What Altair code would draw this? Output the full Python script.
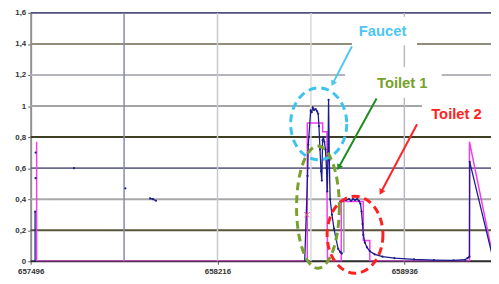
import altair as alt
import pandas as pd

# ---------------- data ----------------
XMIN, XMAX = 657496, 659270
X_TICKS = [657496, 658216, 658936]
Y_TICKS = [0, 0.2, 0.4, 0.6, 0.8, 1.0, 1.2, 1.4, 1.6]
VGRID = [657856, 658216, 658576, 658936]

# magenta series
mag_x = [657519, 657519, 658562, 658562, 658621, 658621, 658638, 658638, 658640,
         658693, 658693, 658778, 658778, 658803, 658803, 659187, 659187, 659275]
mag_y = [0.77, 0.0, 0.0, 0.89, 0.89, 0.835, 0.835, 0.42, 0.0,
         0.0, 0.385, 0.385, 0.134, 0.134, 0.0, 0.0, 0.77, 0.05]

# navy (measured) series, split in segments
nav_seg = (["a"] * 2 + ["d1", "d2", "d3", "d4"] + ["b"] * 3 + ["c"] * 31 + ["e"] * 27)
nav_x = ([657513, 657513]
         + [657515, 657515, 657663, 657861]
         + [657956, 657967, 657979]
         + [658552, 658563, 658566, 658575, 658579, 658583, 658588, 658594, 658600, 658604,
            658607, 658611, 658615, 658618, 658621, 658624, 658628, 658632, 658636, 658639,
            658642, 658644, 658647, 658650, 658657, 658665, 658672, 658681, 658689, 658693,
            658695]
         + [658689, 658700, 658712, 658723, 658731, 658738, 658746, 658754, 658761, 658767,
            658771, 658775, 658778, 658784, 658792, 658803, 658822, 658852, 658898, 658974,
            659050, 659126, 659170, 659179, 659187, 659188, 659276])
nav_y = ([0.0, 0.32]
         + [0.70, 0.535, 0.60, 0.47]
         + [0.405, 0.40, 0.39]
         + [0.0, 0.55, 0.75, 0.97, 0.96, 0.99, 0.975, 0.98, 0.965, 0.95,
            0.87, 0.72, 0.58, 0.52, 0.78, 0.80, 0.77, 0.72, 0.60, 0.45,
            0.70, 1.04, 0.65, 0.40, 0.30, 0.21, 0.15, 0.08, 0.06, 0.055,
            0.05]
         + [0.385, 0.39, 0.395, 0.40, 0.39, 0.40, 0.395, 0.40, 0.39, 0.37,
            0.32, 0.24, 0.17, 0.12, 0.09, 0.065, 0.045, 0.03, 0.02, 0.012,
            0.008, 0.006, 0.01, 0.02, 0.03, 0.64, 0.03])

# gray connector
gray_x = [658703, 658703]
gray_y = [0.055, 0.40]

# red marker
cross_x = [658561]
cross_y = [0.30]

# annotations
ann_text = ["Faucet", "Toilet 1", "Toilet 2"]
ann_color = ["#4cc6f2", "#76a12a", "#ff2424"]
arrow_color = ["#4cc6f2", "#1e8c1e", "#ff2424"]
ann_tx = [658852, 658928, 659137]
ann_ty = [1.486, 1.149, 0.946]
box_x1 = [658734, 658708, 659004]
box_x2 = [658985, 659080, 659270]
box_y1 = [1.575, 1.251, 1.048]
box_y2 = [1.390, 1.054, 0.844]
arr_x1 = [658734, 658829, 658985]
arr_y1 = [1.384, 1.048, 0.883]
arr_x2 = [658662, 658685, 658848]
arr_y2 = [1.151, 0.610, 0.451]
arr_angle = [207, 209, 208]

ell_x = [658606, 658603, 658746]
ell_y = [0.885, 0.349, 0.171]
ell_ry = [36.5, 62, 39]
ell_aspect = [0.78, 0.35, 0.726]
ell_color = ["#3cc4f0", "#78a02a", "#ff2020"]

hgrid_vals = [0, 0.2, 0.4, 0.6, 0.8, 1.0, 1.2, 1.4, 1.6]
hgrid_col = ["#2a2a2a", "#55553a", "#a8a8a8", "#6a6a8a", "#3e3e22", "#a4a4a4", "#b4b4bc", "#8e8e7a", "#50507a"]
vgrid_col = ["#8a8aa8", "#c8c8d0", "#d8d8d8", "#b8b8c8"]

# ---------------- chart ----------------
FONT = "Liberation Sans"
xs = alt.Scale(domain=[XMIN, XMAX], nice=False, zero=False)
ys = alt.Scale(domain=[0, 1.6], nice=False, zero=False)

yaxis = alt.Axis(values=Y_TICKS, format="~g", labelExpr="replace(datum.label, '.', ',')",
                 grid=False, domainColor="#909090", domainWidth=2, tickColor="#606060",
                 tickSize=3, labelFont=FONT, labelFontWeight="bold", labelFontSize=8,
                 labelColor="#333333", labelPadding=2, labelFlush=False, title="")
xaxis = alt.Axis(values=X_TICKS, format="d", grid=False, domain=False,
                 tickColor="#606060", tickSize=3, labelFont=FONT, labelFontWeight="bold",
                 labelFontSize=8, labelColor="#333333", labelPadding=3, labelFlush=False,
                 title="")


def ex(f):
    return alt.X(f, type="quantitative", scale=xs, axis=xaxis)


def ey(f):
    return alt.Y(f, type="quantitative", scale=ys, axis=yaxis)


hg = pd.DataFrame({"y": hgrid_vals, "c": hgrid_col})
vg = pd.DataFrame({"x": VGRID, "c": vgrid_col})

hgrid = alt.Chart(hg).mark_rule(strokeWidth=2).encode(
    y=ey("y"), color=alt.Color("c:N", scale=None))
vgrid = alt.Chart(vg).mark_rule(strokeWidth=1.5).encode(
    x=ex("x"), color=alt.Color("c:N", scale=None))

mag = pd.DataFrame({"x": mag_x, "y": mag_y, "i": range(len(mag_x))})
mag_line = alt.Chart(mag).mark_line(color="#f23cf2", strokeWidth=1.5, clip=True).encode(
    x=ex("x"), y=ey("y"), order="i:Q")

nav = pd.DataFrame({"x": nav_x, "y": nav_y, "s": nav_seg, "i": range(len(nav_x))})
nav_line = alt.Chart(nav).mark_line(color="#1c1c8c", strokeWidth=1.3, clip=True).encode(
    x=ex("x"), y=ey("y"), detail="s:N", order="i:Q")
nav_pts = alt.Chart(nav).mark_point(color="#1c1c8c", filled=True, size=5, opacity=1, clip=True).encode(
    x=ex("x"), y=ey("y"))

gr = pd.DataFrame({"x": gray_x, "y": gray_y})
gray_line = alt.Chart(gr).mark_line(color="#a0a0a0", strokeWidth=1.5).encode(x=ex("x"), y=ey("y"))

cr = pd.DataFrame({"x": cross_x, "y": cross_y})
cross = alt.Chart(cr).mark_point(shape="M-1,-1L1,1M-1,1L1,-1", size=30, color="#ff5a7a",
                                 strokeWidth=1, filled=False, opacity=1).encode(x=ex("x"), y=ey("y"))

ell_layers = []
for cx, cy, ry, a, col in zip(ell_x, ell_y, ell_ry, ell_aspect, ell_color):
    k = 0.5523
    path = (f"M{a},0 C{a},{k} {k*a:.4f},1 0,1 C{-k*a:.4f},1 {-a},{k} {-a},0 "
            f"C{-a},{-k} {-k*a:.4f},-1 0,-1 C{k*a:.4f},-1 {a},{-k} {a},0 Z")
    d = pd.DataFrame({"x": [cx], "y": [cy]})
    ell_layers.append(
        alt.Chart(d).mark_point(shape=path, size=4 * ry * ry, color=col, filled=False,
                                strokeWidth=3, strokeDash=[8, 5], opacity=1).encode(
            x=ex("x"), y=ey("y")))

ann = pd.DataFrame({"t": ann_text, "c": ann_color, "ac": arrow_color, "tx": ann_tx, "ty": ann_ty,
                    "bx1": box_x1, "bx2": box_x2, "by1": box_y1, "by2": box_y2,
                    "ax1": arr_x1, "ay1": arr_y1, "ax2": arr_x2, "ay2": arr_y2, "ang": arr_angle})

boxes = alt.Chart(ann).mark_rect(color="white").encode(
    x=ex("bx1"), x2="bx2:Q", y=ey("by1"), y2="by2:Q")
texts = alt.Chart(ann).mark_text(font=FONT, fontWeight="bold", fontSize=15).encode(
    x=ex("tx"), y=ey("ty"), text="t:N", color=alt.Color("c:N", scale=None))
arrows = alt.Chart(ann).mark_rule(strokeWidth=2).encode(
    x=ex("ax1"), x2="ax2:Q", y=ey("ay1"), y2="ay2:Q", color=alt.Color("ac:N", scale=None))
heads = alt.Chart(ann).mark_point(shape="triangle", filled=True, size=45, opacity=1).encode(
    x=ex("ax2"), y=ey("ay2"), angle=alt.Angle("ang:Q", scale=None),
    color=alt.Color("ac:N", scale=None))

chart = alt.layer(
    hgrid, vgrid, mag_line, gray_line, nav_line, nav_pts, cross,
    *ell_layers, boxes, texts, arrows, heads
).properties(
    width=467, height=252,
    autosize=alt.AutoSizeParams(type="none"),
    padding={"left": 23, "top": 3, "right": 0, "bottom": 15},
    background="white",
).configure_view(stroke=None)

chart.save("out.html", embed_options={"renderer": "svg", "actions": False})
